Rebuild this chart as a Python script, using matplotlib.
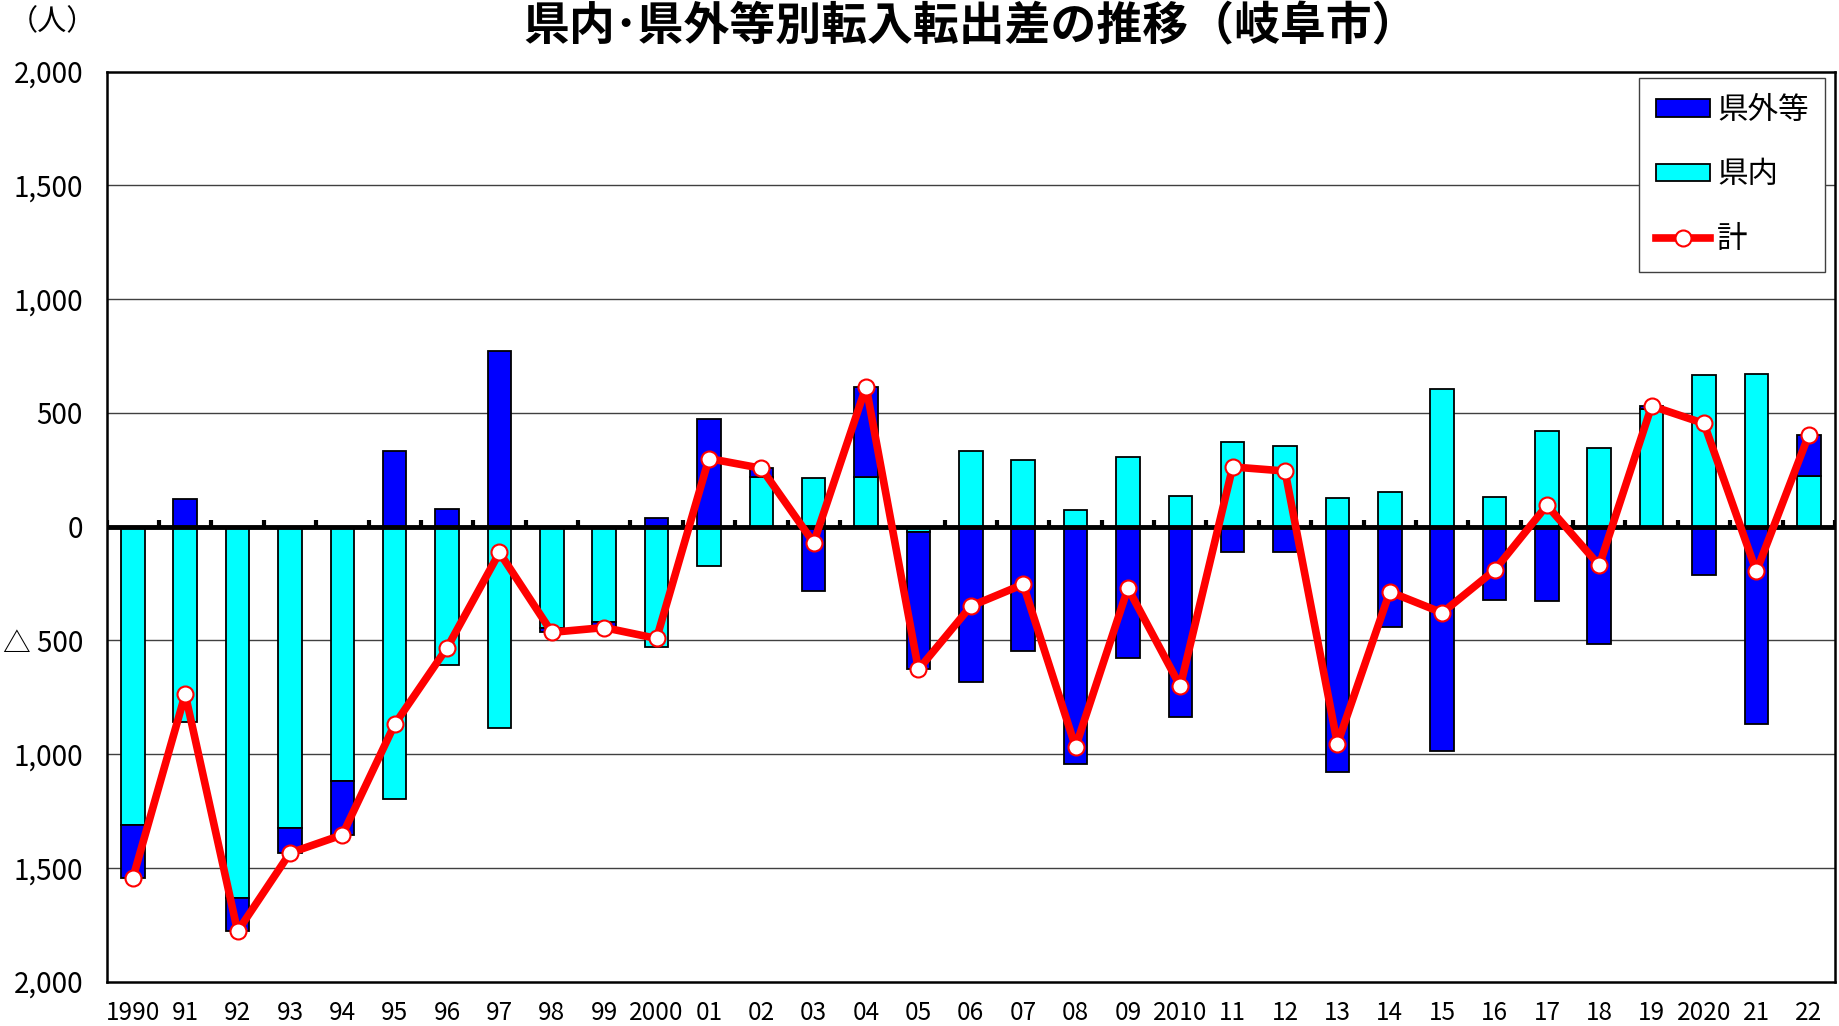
import numpy as np
import matplotlib
matplotlib.use("Agg")
import matplotlib.pyplot as plt

plt.rcParams["font.family"] = ["Noto Sans CJK JP", "DejaVu Sans"]

# =========================
# DATA
# =========================
years = [
    "1990", "91", "92", "93", "94", "95", "96", "97", "98", "99",
    "2000", "01", "02", "03", "04", "05", "06", "07", "08", "09",
    "2010", "11", "12", "13", "14", "15", "16", "17", "18", "19",
    "2020", "21", "22"
]

# 県内
kennai = [
    -1310, -857, -1634, -1327, -1119, -1199, -610, -887, -447, -420,
    -528, -173, 219, 214, 218, -25, 334, 293, 73, 305,
    134, 372, 354, 124, 153, 606, 130, 421, 346, 515,
    667, 672, 224
]

# 県外等
kengai = [
    -235, 120, -145, -108, -236, 330, 77, 773, -18, -24,
    36, 472, 37, -285, 397, -603, -684, -547, -1042, -576,
    -836, -110, -110, -1079, -440, -985, -322, -328, -517, 15,
    -214, -869, 179
]

y_ticks = [2000, 1500, 1000, 500, 0, -500, -1000, -1500, -2000]
# as printed on the chart (the △ of the wider labels falls off the left edge)
y_labels = ["2,000", "1,500", "1,000", "500", "0", "△ 500", "1,000", "1,500", "2,000"]

kennai = np.array(kennai)
kengai = np.array(kengai)
total = kennai + kengai

x = np.arange(len(years))

# Excel style stacking: same sign stacks on top of 県内
bottom_gai = np.where(np.sign(kengai) == np.sign(kennai), kennai, 0)


fig = plt.figure(figsize=(18.39, 10.26), dpi=100)
ax = fig.add_axes([0.0580, 0.0433, 0.9398, 0.887])

bar_w = 0.45

ax.bar(
    x, kennai,
    width=bar_w,
    color="#00FFFF",
    edgecolor="black",
    linewidth=1.3,
    zorder=2
)

ax.bar(
    x, kengai,
    width=bar_w,
    bottom=bottom_gai,
    color="#0000FF",
    edgecolor="black",
    linewidth=1.3,
    zorder=2
)

# zero line with small tick marks at category boundaries
ax.axhline(0, color="black", linewidth=3.5, zorder=3)
bounds = np.arange(len(years) + 1) - 0.5
ax.vlines(bounds, 0, 30, color="black", linewidth=3, zorder=3)

ax.plot(
    x, total,
    color="#FF0000",
    linewidth=5.5,
    marker="o",
    markersize=11.5,
    markerfacecolor="white",
    markeredgecolor="#FF0000",
    markeredgewidth=1.5,
    zorder=4
)

ax.set_xlim(-0.5, len(years) - 0.5)
ax.set_ylim(-2000, 2000)

ax.set_yticks(y_ticks)
ax.set_yticklabels(y_labels, fontsize=20)
ax.set_xticks(x)
ax.set_xticklabels(years, fontsize=17.5)

ax.tick_params(axis="y", length=0, pad=17)
ax.tick_params(axis="x", length=0, pad=13)

for v in y_ticks:
    if v not in (0, 2000, -2000):
        ax.axhline(v, color="#404040", linewidth=1, zorder=1)

for s in ax.spines.values():
    s.set_linewidth(1.8)
    s.set_color("black")

# legend
h_gai = plt.Rectangle((0, 0), 1, 1, facecolor="#0000FF", edgecolor="black", linewidth=1.3)
h_nai = plt.Rectangle((0, 0), 1, 1, facecolor="#00FFFF", edgecolor="black", linewidth=1.3)
h_tot = plt.Line2D(
    [], [], color="#FF0000", linewidth=5.5, marker="o", markersize=11.5,
    markerfacecolor="white", markeredgecolor="#FF0000", markeredgewidth=1.5
)

leg = ax.legend(
    [h_gai, h_nai, h_tot],
    ["県外等", "県内", "計"],
    loc="upper right",
    bbox_to_anchor=(0.9945, 0.993),
    borderaxespad=0,
    fontsize=22,
    handlelength=1.75,
    handleheight=0.5,
    handletextpad=0.25,
    labelspacing=1.1,
    borderpad=0.55,
    fancybox=False,
    framealpha=1,
    edgecolor="#404040"
)
leg.get_frame().set_linewidth(1)

# title and unit
fig.text(
    0.528, 0.961,
    "県内･県外等別転入転出差の推移（岐阜市）",
    fontsize=33,
    fontweight="bold",
    ha="center",
    va="baseline"
)

fig.text(0.0283, 0.978, "（人）", fontsize=21, ha="center", va="center")

fig.savefig("out.png", dpi=100)
